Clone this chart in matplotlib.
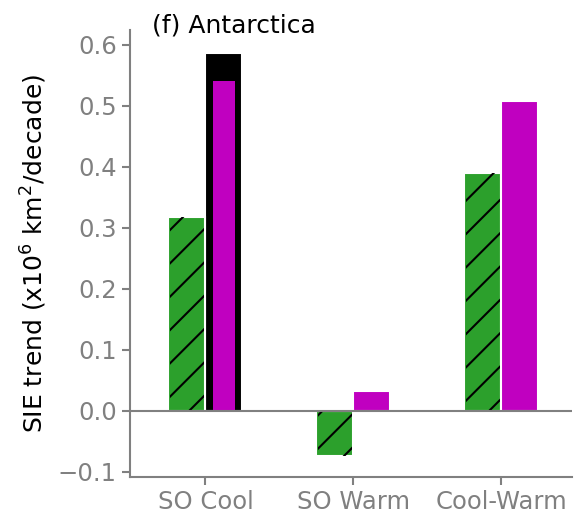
import matplotlib.pyplot as plt
import numpy as np

# SIE trend values for Antarctica (x10^6 km^2/decade)
categories = ["SO Cool", "SO Warm", "Cool-Warm"]
green_vals = [0.318, -0.074, 0.390]
magenta_vals = [0.541, 0.032, 0.508]
black_val = 0.586  # bar behind magenta in SO Cool

x = np.arange(len(categories))
w = 0.25
gray = "#808080"

plt.rcParams["hatch.linewidth"] = 1.5

fig = plt.figure(figsize=(5.74, 5.2), dpi=100)
ax = fig.add_axes([0.2265, 0.083, 0.770, 0.860])

ax.bar(x[0] + w / 2, black_val, w, color="black", edgecolor="white", linewidth=1.5, zorder=2)
ax.bar(x - w / 2, green_vals, w, color="#2ca02c", edgecolor="white", linewidth=1.5, zorder=2)
ax.bar(x - w / 2, green_vals, w - 0.02, color="none", edgecolor="black", linewidth=0, hatch="/", zorder=3)
ax.bar(x[1:] + w / 2, magenta_vals[1:], w, color="#c000c0", edgecolor="white", linewidth=1.5, zorder=2)
ax.bar(x[0] + w / 2, magenta_vals[0], 0.145, color="#c000c0", linewidth=0, zorder=3)

ax.axhline(0, color=gray, linewidth=1.5, zorder=4)

ax.set_xlim(-0.51, 2.48)
ax.set_ylim(-0.108, 0.625)
ax.set_xticks(x)
ax.set_xticklabels(categories)
ax.set_yticks(np.arange(-0.1, 0.61, 0.1))

for s in ["top", "right"]:
    ax.spines[s].set_visible(False)
for s in ["left", "bottom"]:
    ax.spines[s].set_color(gray)
    ax.spines[s].set_linewidth(1.5)
ax.tick_params(colors=gray, labelsize=17.5, width=1.5, length=6)

ax.set_ylabel("SIE trend (x10$^6$ km$^2$/decade)", fontsize=18, color="black", labelpad=6)
ax.text(0.05, 1.01, "(f) Antarctica", transform=ax.transAxes, fontsize=18, va="center")

fig.savefig("out.png", dpi=100)
